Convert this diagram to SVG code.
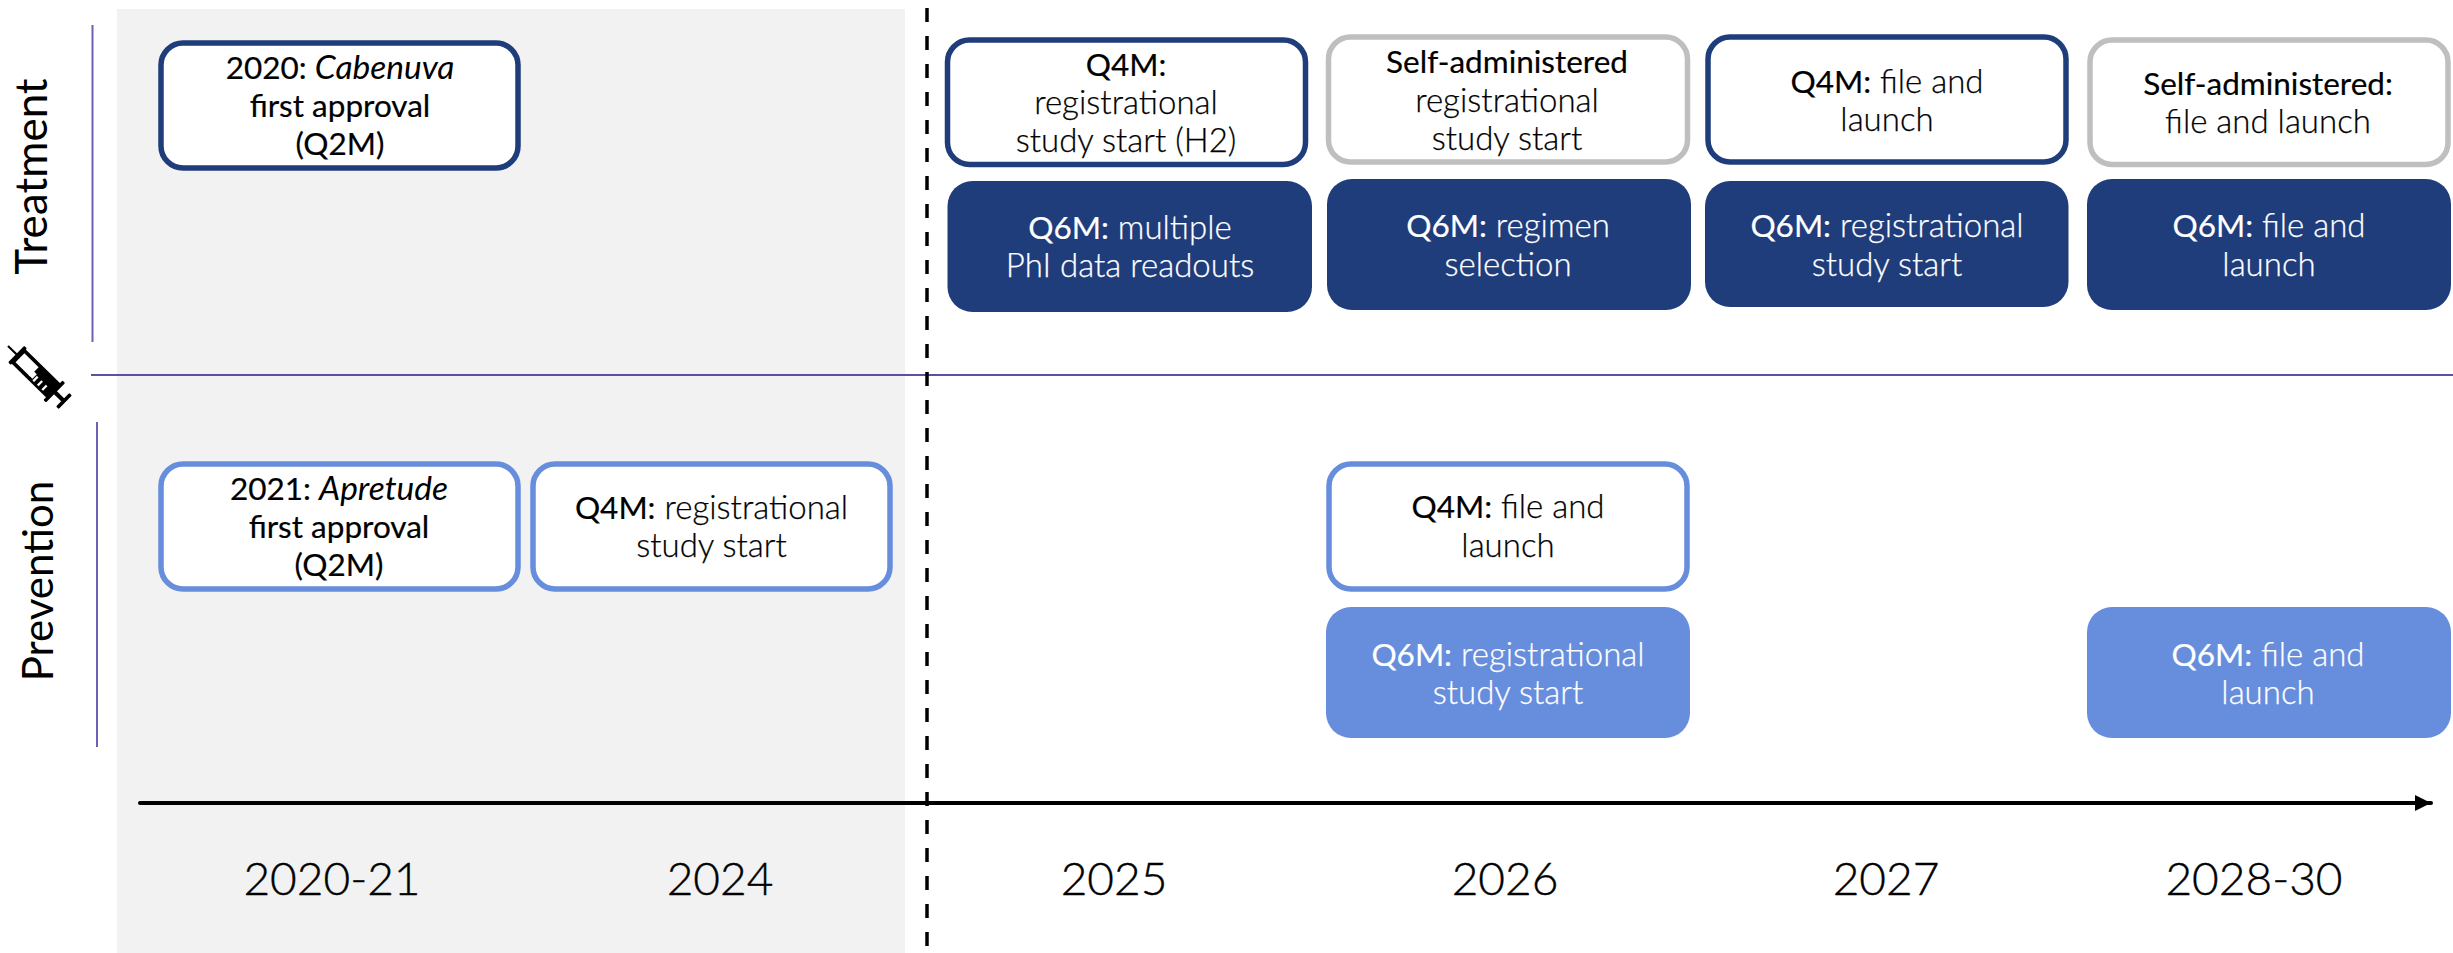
<svg xmlns="http://www.w3.org/2000/svg" width="2453" height="953" viewBox="0 0 2453 953">
<style>
text{font-family:"Lato","Liberation Sans",sans-serif;font-weight:300;fill:#000;text-anchor:middle}
.t{font-size:33px;stroke:#000;stroke-width:.25px}
.w{fill:#fff;stroke:#fff}
.b{font-size:31.500px;font-weight:400;stroke:#000;stroke-width:.2px}
.w .b{stroke:#fff}
.i{font-style:italic;font-size:33.500px;font-weight:400;stroke-width:0}
.y{font-size:46px;font-weight:300;stroke:#000;stroke-width:.4px}
.s{font-size:43px;font-weight:400}
.box{fill:#fff;stroke-width:5.5}
.dark{stroke:#1f3c7b}
.light{stroke:#678ddd}
.grey{stroke:#bfbfbf}
.fd{fill:#1f3c7b}
.fl{fill:#678ddd}
.rule{stroke:#6a62b6;stroke-width:2;fill:none}
</style>
<defs>
<marker id="arrow" markerUnits="userSpaceOnUse" markerWidth="16" markerHeight="16" refX="16" refY="8" orient="auto"><path d="M0 0L16 8L0 16Z" fill="#000"/></marker>
</defs>
<rect x="117" y="9" width="788" height="944" fill="#f2f2f2"/>
<g id="connectors">
<line class="rule" x1="92.500" y1="25" x2="92.500" y2="342"/>
<line class="rule" x1="91" y1="375" x2="2453" y2="375" style="stroke:#5b50a8"/>
<line class="rule" x1="97" y1="422" x2="97" y2="747"/>
<line x1="927" y1="8" x2="927" y2="953" stroke="#000" stroke-width="3.500" stroke-dasharray="14 14"/>
<line x1="140" y1="803" x2="2431" y2="803" stroke="#000" stroke-width="4" stroke-linecap="round" marker-end="url(#arrow)"/>
</g>
<g id="syringe" transform="translate(8 346) rotate(44.500) scale(1.050)">
<rect x="0" y="-1" width="12" height="2"/>
<rect x="11" y="-11" width="3.500" height="22" rx="1"/>
<path d="M13 -9.500H61V9.500H13Z"/>
<rect x="16" y="-6" width="19" height="12" fill="#fff"/>
<g fill="#fff"><rect x="34" y="0" width="4.500" height="6"/><rect x="39.500" y="1" width="2.200" height="6"/><rect x="45.500" y="1" width="2.200" height="6"/><rect x="51.500" y="1" width="2.200" height="6"/></g>
<rect x="60" y="-13" width="3.500" height="26" rx="1"/>
<rect x="62" y="-2" width="13" height="4"/>
<rect x="73" y="-9" width="3.500" height="18" rx="1"/>
</g>
<g id="label-treatment"><text class="s" transform="translate(46.500 176.500) rotate(-90)" style="font-size:44px">Treatment</text></g>
<g id="label-prevention"><text class="s" transform="translate(53 581) rotate(-90)" style="font-size:42px">Prevention</text></g>

<g id="n-cabenuva"><rect class="box dark" x="161" y="43" width="357" height="125" rx="22"/>
<text class="t" x="340" y="79"><tspan class="b">2020: </tspan><tspan class="i">Cabenuva</tspan></text><text class="t" x="340" y="117"><tspan class="b">first approval</tspan></text><text class="t" x="340" y="155"><tspan class="b">(Q2M)</tspan></text></g>
<g id="n-q4m-2025"><rect class="box dark" x="947.500" y="40" width="358" height="124.500" rx="22"/>
<text class="t" x="1126" y="76"><tspan class="b">Q4M:</tspan></text><text class="t" x="1126" y="114">registrational</text><text class="t" x="1126" y="152">study start (H2)</text></g>
<g id="n-self-2026"><rect class="box grey" x="1328.500" y="37" width="359" height="125" rx="22"/>
<text class="t" x="1507" y="73"><tspan class="b">Self-administered</tspan></text><text class="t" x="1507" y="112">registrational</text><text class="t" x="1507" y="150">study start</text></g>
<g id="n-q4m-2027"><rect class="box dark" x="1708" y="37" width="358" height="125" rx="22"/>
<text class="t" x="1887" y="93"><tspan class="b">Q4M:</tspan> file and</text><text class="t" x="1887" y="131">launch</text></g>
<g id="n-self-2028"><rect class="box grey" x="2090" y="40" width="358" height="124.500" rx="22"/>
<text class="t" x="2268" y="95"><tspan class="b">Self-administered:</tspan></text><text class="t" x="2268" y="133">file and launch</text></g>
<g id="n-q6m-2025"><rect class="fd" x="947.500" y="181" width="364.500" height="131" rx="25"/>
<text class="t w" x="1130" y="239"><tspan class="b">Q6M:</tspan> multiple</text><text class="t w" x="1130" y="277">PhI data readouts</text></g>
<g id="n-q6m-2026"><rect class="fd" x="1327" y="179" width="364" height="131" rx="25"/>
<text class="t w" x="1508" y="237"><tspan class="b">Q6M:</tspan> regimen</text><text class="t w" x="1508" y="276">selection</text></g>
<g id="n-q6m-2027"><rect class="fd" x="1705" y="181" width="363.500" height="126" rx="25"/>
<text class="t w" x="1887" y="237"><tspan class="b">Q6M:</tspan> registrational</text><text class="t w" x="1887" y="276">study start</text></g>
<g id="n-q6m-2028"><rect class="fd" x="2087" y="179" width="364" height="131" rx="25"/>
<text class="t w" x="2269" y="237"><tspan class="b">Q6M:</tspan> file and</text><text class="t w" x="2269" y="276">launch</text></g>
<g id="n-apretude"><rect class="box light" x="161" y="464" width="357" height="125" rx="22"/>
<text class="t" x="339" y="500"><tspan class="b">2021: </tspan><tspan class="i">Apretude</tspan></text><text class="t" x="339" y="538"><tspan class="b">first approval</tspan></text><text class="t" x="339" y="576"><tspan class="b">(Q2M)</tspan></text></g>
<g id="n-q4m-2024"><rect class="box light" x="533" y="464" width="357" height="125" rx="22"/>
<text class="t" x="711.500" y="519"><tspan class="b">Q4M:</tspan> registrational</text><text class="t" x="711.500" y="557">study start</text></g>
<g id="n-q4m-2026p"><rect class="box light" x="1329" y="464" width="358" height="125" rx="22"/>
<text class="t" x="1508" y="518"><tspan class="b">Q4M:</tspan> file and</text><text class="t" x="1508" y="557">launch</text></g>
<g id="n-q6m-2026p"><rect class="fl" x="1326" y="607" width="364" height="131" rx="25"/>
<text class="t w" x="1508" y="666"><tspan class="b">Q6M:</tspan> registrational</text><text class="t w" x="1508" y="704">study start</text></g>
<g id="n-q6m-2028p"><rect class="fl" x="2087" y="607" width="364" height="131" rx="25"/>
<text class="t w" x="2268" y="666"><tspan class="b">Q6M:</tspan> file and</text><text class="t w" x="2268" y="704">launch</text></g>
<g id="years">
<text class="y" x="332" y="895">2020-21</text><text class="y" x="720" y="895">2024</text><text class="y" x="1114" y="895">2025</text><text class="y" x="1505" y="895">2026</text><text class="y" x="1886" y="895">2027</text><text class="y" x="2254" y="895">2028-30</text>
</g>
</svg>
